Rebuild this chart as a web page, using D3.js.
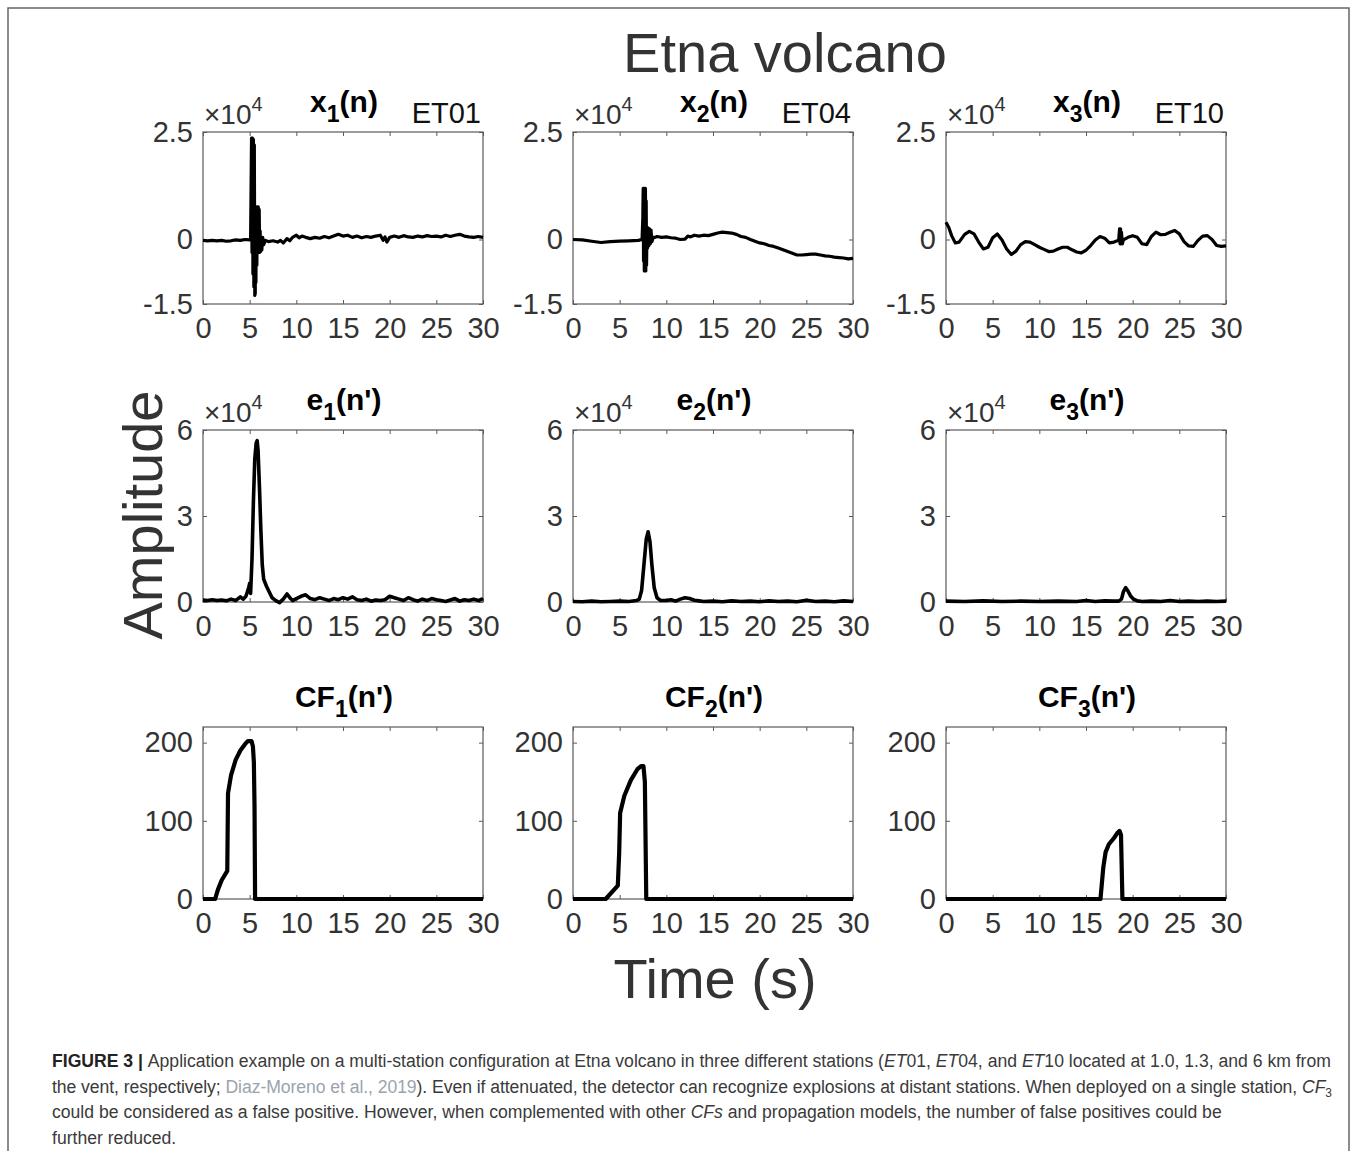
<!DOCTYPE html>
<html>
<head>
<meta charset="utf-8">
<script src="https://cdn.jsdelivr.net/npm/d3@7"></script>
<style>
  body { margin: 0; background: #fff; }
  svg { display: block; }
</style>
</head>
<body>
<svg id="fig" width="1358" height="1151"></svg>
<script>
// time axis ticks, shared by all panels
const timeTicks = [0, 5, 10, 15, 20, 25, 30];
const stations = ["ET01", "ET04", "ET10"];

// row 1: raw traces (x 10^4 counts), [time s, value]
const x1Trace = [[0,-0.02],[0.5,-0.03],[1,-0.02],[1.5,-0.03],[2,-0.02],[2.5,-0.04],[3,-0.03],[3.5,-0.01],[4,-0.02],[4.5,0.0],[5,-0.01],[5.1,0.02],
  [5.15,1.2],[5.2,2.36],[5.25,-0.3],[5.3,2.36],[5.35,-0.8],[5.4,2.33],[5.45,-1.1],[5.5,2.2],[5.55,-1.3],[5.6,-1.25],[5.62,0.76],[5.67,-1.0],[5.72,0.76],[5.77,-0.6],[5.82,0.76],[5.87,-0.3],[5.92,0.76],[5.97,-0.25],[6.02,0.7],[6.07,-0.3],[6.12,0.2],[6.17,-0.28],[6.25,-0.05],[6.3,-0.25],[6.4,0.05],[6.5,-0.12],[6.7,-0.02],
  [7,-0.05],[7.5,-0.03],[8,-0.06],[8.3,-0.02],[8.6,-0.08],[9,0.02],[9.3,-0.03],[9.6,0.05],[10,0.1],[10.3,0.04],[10.6,0.08],[11,0.05],[11.5,0.02],[12,0.05],[12.5,0.03],[13,0.07],[13.5,0.04],[14,0.08],[14.5,0.12],[15,0.08],[15.5,0.1],[16,0.05],[16.5,0.08],[17,0.04],[17.5,0.07],[18,0.05],[18.5,0.08],[19,0.1],[19.3,-0.02],[19.5,0.06],[19.7,-0.06],[20,0.05],[20.5,0.08],[21,0.05],[21.5,0.09],[22,0.06],[22.5,0.05],[23,0.08],[23.5,0.06],[24,0.09],[24.5,0.07],[25,0.08],[25.5,0.06],[26,0.1],[26.5,0.07],[27,0.1],[27.5,0.12],[28,0.08],[28.5,0.06],[29,0.05],[29.5,0.07],[30,0.05]];

const x2Trace = [[0,0],[1,-0.01],[2,-0.04],[3,-0.07],[4,-0.05],[5,-0.04],[6,-0.03],[7,-0.02],[7.4,0.0],
  [7.48,0.5],[7.52,1.19],[7.56,-0.5],[7.6,1.19],[7.64,-0.73],[7.68,1.19],[7.72,-0.73],[7.76,1.19],[7.8,-0.73],[7.84,0.9],[7.88,-0.6],[7.93,0.27],[7.98,-0.2],[8.05,0.27],[8.12,-0.15],[8.2,0.25],[8.28,-0.1],[8.36,0.22],[8.45,-0.05],[8.6,0.05],
  [8.8,0.05],[9,0.07],[9.5,0.05],[10,0.06],[10.5,0.04],[11,0.03],[11.5,0.0],[12,0.01],[12.3,0.08],[12.6,0.06],[13,0.1],[13.5,0.08],[14,0.1],[14.5,0.09],[15,0.12],[15.5,0.15],[16,0.17],[16.5,0.16],[17,0.15],[17.5,0.12],[18,0.07],[18.5,0.05],[19,0.0],[19.5,-0.04],[20,-0.08],[20.5,-0.1],[21,-0.14],[21.5,-0.16],[22,-0.2],[22.5,-0.24],[23,-0.28],[23.5,-0.32],[24,-0.36],[24.5,-0.36],[25,-0.35],[25.5,-0.34],[26,-0.34],[26.5,-0.36],[27,-0.38],[27.5,-0.39],[28,-0.41],[28.5,-0.42],[29,-0.43],[29.5,-0.45],[30,-0.44]];

const x3Trace = [[0,0.4],[0.3,0.28],[0.6,0.09],[1,-0.08],[1.4,-0.06],[2,0.12],[2.5,0.19],[3,0.13],[3.5,-0.06],[4,-0.22],[4.5,-0.18],[5,0.04],[5.5,0.13],[6,-0.01],[6.5,-0.22],[7,-0.35],[7.5,-0.27],[8,-0.12],[8.5,-0.05],[9,-0.06],[9.5,-0.12],[10,-0.18],[10.5,-0.23],[11,-0.28],[11.5,-0.27],[12,-0.22],[12.5,-0.18],[13,-0.18],[13.5,-0.24],[14,-0.29],[14.5,-0.31],[15,-0.25],[15.5,-0.14],[16,-0.01],[16.5,0.07],[17,0.03],[17.5,-0.08],[18,-0.06],[18.5,-0.02],
  [18.6,0.25],[18.65,-0.1],[18.7,0.25],[18.75,-0.1],[18.8,0.17],[18.9,-0.1],[19,-0.01],[19.5,0.05],[20,0.09],[20.5,0.05],[21,-0.1],[21.5,-0.12],[22,0.07],[22.5,0.17],[23,0.11],[23.5,0.12],[24,0.17],[24.5,0.21],[25,0.13],[25.5,-0.05],[26,-0.15],[26.5,-0.16],[27,-0.02],[27.5,0.08],[28,0.09],[28.5,0.0],[29,-0.14],[29.5,-0.16],[30,-0.15]];

// row 2: envelopes (x 10^4)
const e1Trace = [[0,0.07],[0.5,0.05],[1,0.08],[1.5,0.05],[2,0.07],[2.5,0.04],[3,0.1],[3.5,0.05],[4,0.18],[4.3,0.1],[4.6,0.2],[4.9,0.5],[5.0,0.65],[5.1,0.3],[5.25,1.5],[5.4,3.5],[5.55,5.0],[5.7,5.55],[5.8,5.63],[5.9,5.3],[6.05,4.0],[6.2,2.5],[6.35,1.3],[6.5,0.8],[6.8,0.55],[7.1,0.35],[7.4,0.15],[7.8,0.05],[8.2,-0.02],[8.6,0.1],[9.0,0.28],[9.3,0.15],[9.6,0.05],[10.0,0.12],[10.5,0.2],[11.0,0.25],[11.5,0.12],[12.0,0.08],[12.5,0.15],[13.0,0.1],[13.5,0.05],[14.0,0.12],[14.5,0.08],[15.0,0.15],[15.5,0.1],[16.0,0.18],[16.5,0.08],[17,0.05],[17.5,0.1],[18,0.03],[18.5,0.07],[19,0.05],[19.5,0.08],[20,0.2],[20.5,0.15],[21,0.1],[21.5,0.05],[22,0.15],[22.5,0.08],[23,0.03],[23.5,0.1],[24,0.05],[24.5,0.12],[25,0.08],[25.5,0.05],[26,0.02],[26.5,0.07],[27,0.12],[27.5,0.03],[28,0.08],[28.5,0.05],[29,0.1],[29.5,0.05],[30,0.12]];

const e2Trace = [[0,0.02],[1,0.01],[2,0.03],[3,0.01],[4,0.02],[5,0.03],[6,0.02],[6.8,0.05],[7.1,0.1],[7.35,0.4],[7.6,1.3],[7.85,2.2],[8.05,2.45],[8.25,2.1],[8.45,1.3],[8.7,0.5],[9.0,0.15],[9.4,0.05],[10,0.05],[10.5,0.08],[11,0.03],[11.5,0.1],[12,0.15],[12.5,0.12],[13,0.06],[13.5,0.04],[14,0.02],[15,0.03],[16,0.01],[17,0.04],[18,0.02],[19,0.03],[20,0.01],[21,0.04],[22,0.02],[23,0.03],[24,0.01],[25,0.06],[26,0.02],[27,0.03],[28,0.01],[29,0.04],[30,0.02]];

const e3Trace = [[0,0.03],[2,0.02],[4,0.04],[6,0.02],[8,0.03],[10,0.02],[12,0.03],[14,0.02],[15,0.05],[16,0.02],[17,0.04],[18,0.03],[18.5,0.03],[18.8,0.1],[19.0,0.35],[19.25,0.5],[19.5,0.38],[19.8,0.2],[20.1,0.1],[20.5,0.04],[21,0.02],[22,0.03],[23,0.02],[24,0.05],[25,0.02],[26,0.03],[27,0.02],[28,0.03],[29,0.02],[30,0.03]];

// row 3: characteristic functions
const cf1Trace = [[0,0],[1.3,0],[1.6,12],[2.0,24],[2.6,36],[2.68,135],[3.0,158],[3.5,178],[4.0,190],[4.5,198],[4.8,202],[5.2,202],[5.35,195],[5.45,175],[5.52,120],[5.58,0],[30,0]];
const cf2Trace = [[0,0],[3.5,0],[4.8,17],[4.95,60],[5.05,110],[5.5,132],[6.2,152],[6.9,166],[7.3,170],[7.55,170],[7.7,150],[7.85,0],[30,0]];
const cf3Trace = [[0,0],[16.55,0],[16.85,40],[17.1,60],[17.45,70],[18.0,78],[18.4,85],[18.6,87],[18.75,82],[18.9,0],[30,0]];

const rowYDomains = [[-1.5, 2.5], [0, 6], [0, 220]];
const rowYTicks = [[-1.5, 0, 2.5], [0, 3, 6], [0, 100, 200]];
const rowYLabels = [["-1.5", "0", "2.5"], ["0", "3", "6"], ["0", "100", "200"]];
const rowNames = ["x", "e", "CF"];
const rowArgs = ["(n)", "(n')", "(n')"];
const traces = [[x1Trace, x2Trace, x3Trace], [e1Trace, e2Trace, e3Trace], [cf1Trace, cf2Trace, cf3Trace]];

const colLeft = [203, 573, 946];
const rowTop = [132, 430, 727];
const plotW = 280, plotH = 172;
const lineW = [3.2, 3.6, 4.2];

const FONT = "'Liberation Sans', Arial, Helvetica, sans-serif";
const TXT = "#333";
const AX = "#5a5a5a";

const svg = d3.select("#fig").style("font-family", FONT);
svg.append("rect").attr("width", 1358).attr("height", 1151).attr("fill", "#fff");
svg.append("rect").attr("x", 8).attr("y", 8).attr("width", 1341).attr("height", 1160)
  .attr("fill", "none").attr("stroke", "#666").attr("stroke-width", 1.5);

svg.append("text").attr("x", 785).attr("y", 72).attr("text-anchor", "middle")
  .attr("font-size", 56).attr("fill", TXT).text("Etna volcano");

svg.append("text").attr("transform", "translate(162,515) rotate(-90)").attr("text-anchor", "middle")
  .attr("font-size", 56).attr("fill", TXT).text("Amplitude");

svg.append("text").attr("x", 715).attr("y", 998).attr("text-anchor", "middle")
  .attr("font-size", 56).attr("fill", TXT).text("Time (s)");

const x = d3.scaleLinear().domain([0, 30]).range([0, plotW]);

for (let r = 0; r < 3; r++) {
  const y = d3.scaleLinear().domain(rowYDomains[r]).range([plotH, 0]);
  for (let c = 0; c < 3; c++) {
    const g = svg.append("g").attr("transform", `translate(${colLeft[c]},${rowTop[r]})`);

    // ticks pointing inwards on all four sides
    const bottom = g.append("g").attr("transform", `translate(0,${plotH})`)
      .call(d3.axisBottom(x).tickValues(timeTicks).tickSize(-4).tickPadding(13).tickFormat(d3.format("d")));
    const top = g.append("g").call(d3.axisTop(x).tickValues(timeTicks).tickSize(-4).tickFormat(""));
    const left = g.append("g")
      .call(d3.axisLeft(y).tickValues(rowYTicks[r]).tickSize(-4).tickPadding(10)
        .tickFormat((d, i) => rowYLabels[r][i]));
    const right = g.append("g").attr("transform", `translate(${plotW},0)`)
      .call(d3.axisRight(y).tickValues(rowYTicks[r]).tickSize(-4).tickFormat(""));

    [bottom, top, left, right].forEach(a => {
      a.select(".domain").remove();
      a.selectAll("line").attr("stroke", AX).attr("stroke-width", 1);
      a.selectAll("text").attr("font-size", 29).attr("fill", TXT).attr("font-family", FONT);
    });

    g.append("rect").attr("width", plotW).attr("height", plotH)
      .attr("fill", "none").attr("stroke", AX).attr("stroke-width", 1.2);

    const line = d3.line().x(d => x(d[0])).y(d => y(d[1]));
    g.append("path").datum(traces[r][c]).attr("d", line)
      .attr("fill", "none").attr("stroke", "#000").attr("stroke-width", lineW[r])
      .attr("stroke-linejoin", "round");

    // panel title with subscript
    const t = g.append("text").attr("x", plotW / 2 + 1).attr("y", -20).attr("text-anchor", "middle")
      .attr("font-size", 30).attr("font-weight", "bold").attr("fill", "#000");
    t.append("tspan").text(rowNames[r]);
    t.append("tspan").attr("dy", 10).attr("font-size", 23).text(c + 1);
    t.append("tspan").attr("dy", -10).text(rowArgs[r]);

    // exponent label
    if (r < 2) {
      const m = g.append("text").attr("x", 1).attr("y", -8).attr("font-size", 28).attr("fill", TXT);
      m.append("tspan").text("\u00d710");
      m.append("tspan").attr("dy", -13).attr("font-size", 20).text("4");
    }
    if (r === 0) {
      g.append("text").attr("x", plotW - 2).attr("y", -9).attr("text-anchor", "end")
        .attr("font-size", 29).attr("fill", "#111").text(stations[c]);
    }
  }
}

// caption
const captionLines = [
  [{t: "FIGURE 3 | ", b: true}, {t: "Application example on a multi-station configuration at Etna volcano in three different stations ("}, {t: "ET", i: true}, {t: "01, "}, {t: "ET", i: true}, {t: "04, and "}, {t: "ET", i: true}, {t: "10 located at 1.0, 1.3, and 6 km from"}],
  [{t: "the vent, respectively; "}, {t: "Diaz-Moreno et al., 2019", link: true}, {t: "). Even if attenuated, the detector can recognize explosions at distant stations. When deployed on a single station, "}, {t: "CF", i: true}, {t: "3", sub: true}],
  [{t: "could be considered as a false positive. However, when complemented with other "}, {t: "CFs", i: true}, {t: " and propagation models, the number of false positives could be"}],
  [{t: "further reduced."}]
];
const capY = [1067, 1092.5, 1118, 1143.5];
captionLines.forEach((parts, li) => {
  const tx = svg.append("text").attr("x", 52).attr("y", capY[li]).attr("font-size", 17.6).attr("fill", "#3a3a3a");
  parts.forEach(p => {
    const s = tx.append("tspan").text(p.t);
    if (p.b) s.attr("font-weight", "bold").attr("fill", "#222");
    if (p.i) s.attr("font-style", "italic");
    if (p.link) s.attr("fill", "#9aa4ad");
    if (p.sub) s.attr("dy", 4).attr("font-size", 12);
  });
  // the two justified lines end at the right margin
  if (li < 2) {
    const w = tx.node().getComputedTextLength();
    if (w > 1280) tx.attr("textLength", 1280).attr("lengthAdjust", "spacing");
  }
});
</script>
</body>
</html>
